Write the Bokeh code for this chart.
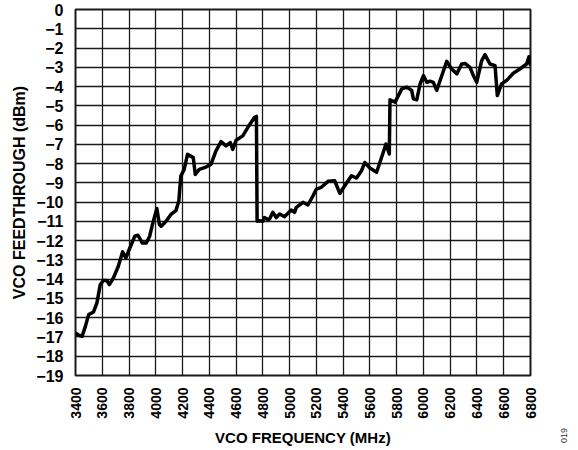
from math import pi
from bokeh.plotting import figure
from bokeh.models import FixedTicker, Range1d, Label
from bokeh.embed import file_html
from bokeh.resources import INLINE

# ---- data ----
freq_mhz = [3400, 3425, 3449, 3474, 3498, 3535, 3560, 3585, 3609, 3634, 3653, 3683,
            3720, 3752, 3776, 3806, 3843, 3867, 3899, 3929, 3954, 3978, 4008, 4027,
            4040, 4077, 4113, 4150, 4172, 4187, 4212, 4237, 4280, 4295, 4325, 4375,
            4412, 4450, 4487, 4525, 4557, 4575, 4600, 4650, 4687, 4712, 4737, 4752,
            4757, 4775, 4800, 4812, 4837, 4850, 4875, 4900, 4925, 4962, 5012, 5037,
            5050, 5100, 5137, 5175, 5200, 5237, 5287, 5337, 5375, 5412, 5462, 5500,
            5537, 5562, 5600, 5650, 5687, 5720, 5745, 5750, 5788, 5838, 5875, 5912,
            5925, 5950, 5975, 6000, 6025, 6049, 6074, 6099, 6124, 6174, 6211, 6249,
            6286, 6311, 6348, 6373, 6398, 6435, 6460, 6497, 6535, 6552, 6584, 6621,
            6671, 6721, 6771, 6788, 6800]
feedthrough_dbm = [-16.79, -16.91, -16.97, -16.45, -15.84, -15.70, -15.23, -14.28, -14.07,
                   -14.07, -14.28, -13.94, -13.33, -12.58, -12.90, -12.38, -11.77, -11.72,
                   -12.12, -12.12, -11.77, -11.08, -10.33, -11.16, -11.25, -10.99, -10.64,
                   -10.44, -9.95, -8.65, -8.30, -7.52, -7.69, -8.56, -8.30, -8.18, -8.04,
                   -7.34, -6.86, -7.08, -6.91, -7.26, -6.79, -6.56, -6.13, -5.87, -5.61,
                   -5.55, -10.99, -10.97, -10.99, -10.80, -10.90, -10.88, -10.53, -10.80,
                   -10.62, -10.76, -10.41, -10.53, -10.27, -10.01, -10.15, -9.67, -9.32,
                   -9.23, -8.92, -8.89, -9.55, -9.15, -8.63, -8.75, -8.37, -7.94, -8.23,
                   -8.45, -7.68, -6.98, -7.50, -4.69, -4.81, -4.12, -4.03, -4.20, -4.64,
                   -4.69, -3.86, -3.43, -3.78, -3.72, -3.78, -4.20, -3.70, -2.69, -3.09,
                   -3.34, -2.83, -2.80, -3.00, -3.43, -3.78, -2.66, -2.34, -2.83, -2.91,
                   -4.47, -3.86, -3.69, -3.31, -3.09, -2.83, -2.45, -2.91]

x_tick_values = list(range(3400, 6801, 200))
y_tick_values = list(range(0, -20, -1))
y_tick_labels = ["0"] + ["\u2212%d" % (-v) for v in y_tick_values[1:]]

x_title = "VCO FREQUENCY (MHz)"
y_title = "VCO FEEDTHROUGH (dBm)"
figure_code = "019"

FONT = "Liberation Sans"

p = figure(frame_width=455, frame_height=366, output_backend="svg", toolbar_location=None,
           x_range=Range1d(3400, 6800), y_range=Range1d(-19, 0),
           min_border_left=75, min_border_right=48, min_border_top=9, min_border_bottom=75)

p.line(freq_mhz, feedthrough_dbm, line_color="black", line_width=3.5, line_join="round")

for ax in (p.xaxis[0], p.yaxis[0]):
    ax.axis_line_color = None
    ax.major_tick_line_color = None
    ax.minor_tick_line_color = None
    ax.major_label_text_font = FONT
    ax.major_label_text_font_style = "bold"
    ax.major_label_text_color = "black"
    ax.axis_label_text_font = FONT
    ax.axis_label_text_font_style = "bold"
    ax.axis_label_text_color = "black"
    ax.major_label_standoff = 6

p.xaxis.ticker = FixedTicker(ticks=x_tick_values)
p.xaxis.major_label_orientation = pi / 2
p.xaxis.major_label_text_font_size = "14px"
p.xaxis.axis_label = x_title
p.xaxis.axis_label_text_font_size = "15px"
p.xaxis.axis_label_standoff = 7

p.yaxis.ticker = FixedTicker(ticks=y_tick_values)
p.yaxis.major_label_overrides = {v: s for v, s in zip(y_tick_values, y_tick_labels)}
p.yaxis.major_label_text_font_size = "16px"
p.yaxis.axis_label = y_title
p.yaxis.axis_label_text_font_size = "16px"
p.yaxis.axis_label_standoff = 5

for g in (p.xgrid[0], p.ygrid[0]):
    g.grid_line_color = "#1a1a1a"
    g.grid_line_width = 1.3
    g.grid_line_alpha = 1.0

p.outline_line_color = "#1a1a1a"
p.outline_line_width = 2
p.background_fill_color = "white"
p.border_fill_color = "white"

p.add_layout(Label(x=33, y=-60, x_units="screen", y_units="screen", text=figure_code,
                   angle=pi / 2, text_font=FONT, text_font_size="9px", text_color="#333333",
                   text_align="center", text_baseline="middle"), "right")

open("out.html", "w").write(file_html(p, INLINE))
